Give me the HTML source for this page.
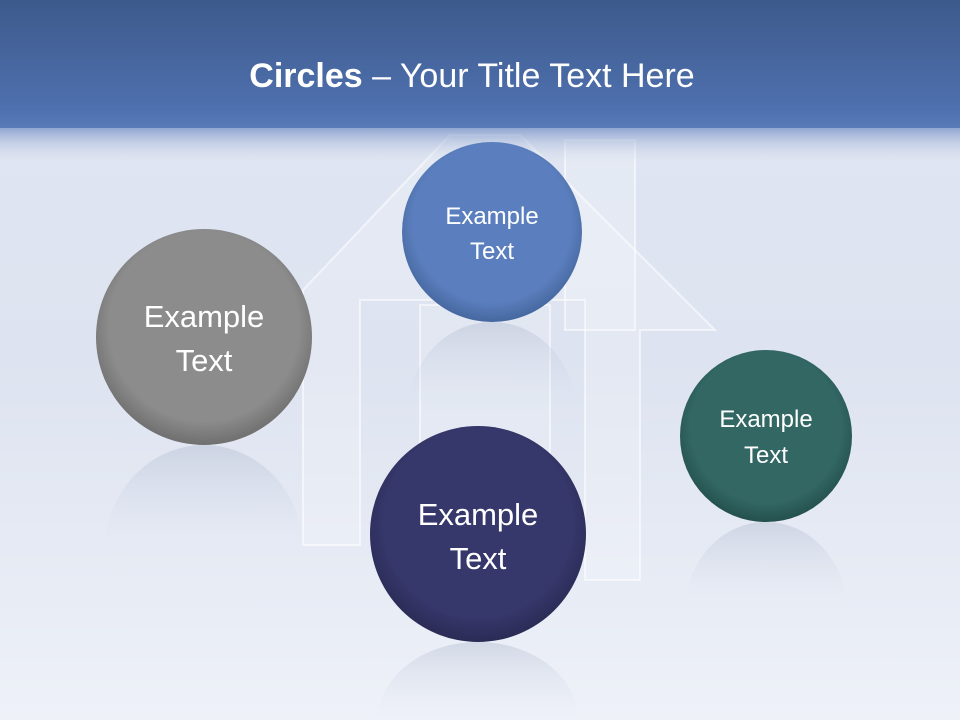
<!DOCTYPE html>
<html><head><meta charset="utf-8"><style>
html,body{margin:0;padding:0;width:960px;height:720px;overflow:hidden;}
svg{display:block;position:absolute;left:0;top:0;}
text{font-family:"Liberation Sans",sans-serif;fill:#fff;text-anchor:middle;}
</style></head><body>
<svg width="960" height="720" viewBox="0 0 960 720" xmlns="http://www.w3.org/2000/svg">
<defs>
<linearGradient id="bg" x1="0" y1="0" x2="0" y2="1">
<stop offset="0" stop-color="#e0e6f2"/><stop offset="0.5" stop-color="#dde3f0"/><stop offset="1" stop-color="#eef1f8"/>
</linearGradient>
<linearGradient id="hd" x1="0" y1="0" x2="0" y2="1">
<stop offset="0" stop-color="#3e5a8c"/><stop offset="0.85" stop-color="#4e70ae"/><stop offset="1" stop-color="#5a7bb8"/>
</linearGradient>
<linearGradient id="fade" x1="0" y1="0" x2="0" y2="1">
<stop offset="0" stop-color="#7d96c8" stop-opacity="0.8"/><stop offset="1" stop-color="#dfe5f1" stop-opacity="0"/>
</linearGradient>
<radialGradient id="gG" cx="0.5" cy="0.45" r="0.55"><stop offset="0.8" stop-color="#8c8c8c"/><stop offset="1" stop-color="#6f6f6f"/></radialGradient>
<radialGradient id="gB" cx="0.5" cy="0.45" r="0.55"><stop offset="0.8" stop-color="#5b7fbe"/><stop offset="1" stop-color="#46679f"/></radialGradient>
<radialGradient id="gN" cx="0.5" cy="0.45" r="0.55"><stop offset="0.8" stop-color="#36376a"/><stop offset="1" stop-color="#2a2b55"/></radialGradient>
<radialGradient id="gT" cx="0.5" cy="0.45" r="0.55"><stop offset="0.8" stop-color="#326764"/><stop offset="1" stop-color="#24504d"/></radialGradient>
<linearGradient id="ref" x1="0" y1="0" x2="0" y2="1"><stop offset="0" stop-color="#a4afc6" stop-opacity="0.35"/><stop offset="0.5" stop-color="#dfe5f1" stop-opacity="0"/></linearGradient>
<linearGradient id="ref2" x1="0" y1="0" x2="0" y2="1"><stop offset="0" stop-color="#a4afc6" stop-opacity="0.35"/><stop offset="1" stop-color="#dfe5f1" stop-opacity="0"/></linearGradient>
</defs>
<rect width="960" height="720" fill="url(#bg)"/>
<g fill="#ffffff" fill-opacity="0.2" stroke="#ffffff" stroke-opacity="0.55" stroke-width="2">
<polygon points="303,290 450,135 520,135 715,330 640,330 640,580 585,580 585,300 460,300 360,300 360,545 303,545"/>
<rect x="420" y="305" width="130" height="250" fill-opacity="0.15"/>
<rect x="565" y="140" width="70" height="190" fill-opacity="0.2"/>
</g>
<rect x="0" y="0" width="960" height="128" fill="url(#hd)"/>
<rect x="0" y="128" width="960" height="36" fill="url(#fade)"/>
<text x="472" y="87" font-size="34"><tspan font-weight="bold">Circles</tspan> – Your Title Text Here</text>
<ellipse cx="204" cy="553" rx="100" ry="108" fill="url(#ref)"/>
<ellipse cx="492" cy="412" rx="84" ry="90" fill="url(#ref)"/>
<path d="M378,720 A100,78 0 0 1 578,720 Z" fill="url(#ref2)"/>
<ellipse cx="766" cy="608" rx="80" ry="86" fill="url(#ref)"/>
<circle cx="204" cy="337" r="108" fill="url(#gG)"/>
<circle cx="492" cy="232" r="90" fill="url(#gB)"/>
<circle cx="478" cy="534" r="108" fill="url(#gN)"/>
<circle cx="766" cy="436" r="86" fill="url(#gT)"/>
<text x="204" y="327" font-size="31">Example</text>
<text x="204" y="371" font-size="31">Text</text>
<text x="492" y="224" font-size="24">Example</text>
<text x="492" y="259" font-size="24">Text</text>
<text x="478" y="525" font-size="31">Example</text>
<text x="478" y="569" font-size="31">Text</text>
<text x="766" y="427" font-size="24">Example</text>
<text x="766" y="463" font-size="24">Text</text>
</svg>
</body></html>
